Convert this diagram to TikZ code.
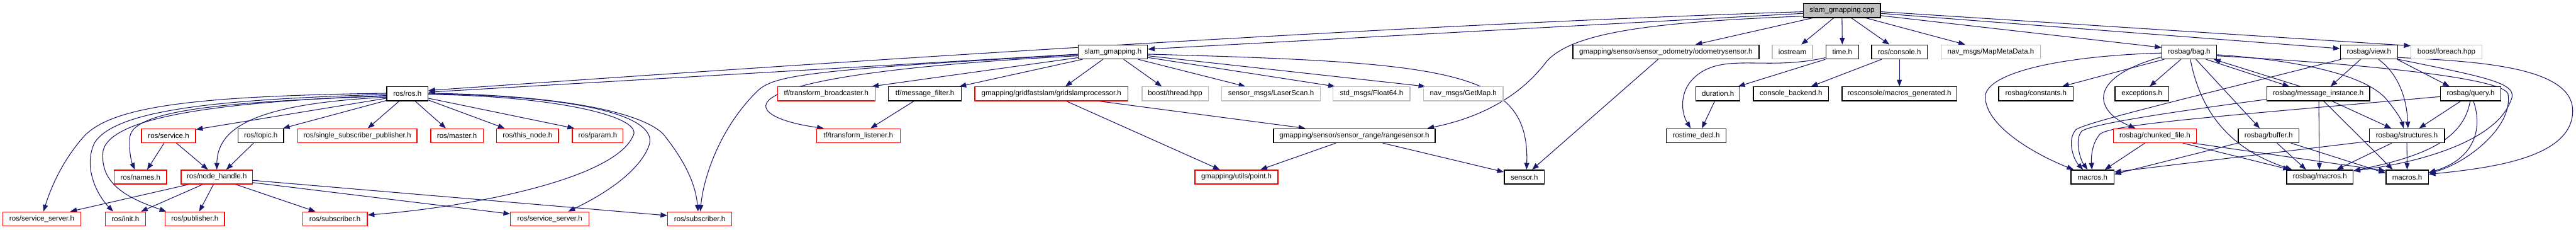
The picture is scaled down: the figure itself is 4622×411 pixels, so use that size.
\documentclass[tikz,border=0pt]{standalone}
\usepackage{fontspec}
\setmainfont{Liberation Sans}
\usetikzlibrary{arrows.meta,backgrounds}
\definecolor{edgeblue}{HTML}{191970}
\definecolor{boxgray}{HTML}{BFBFBF}
\begin{document}
\begin{tikzpicture}[x=1pt,y=-1pt,
  fbox/.style={draw=black, line width=1.5pt, minimum height=25pt, inner sep=0pt, fill=white, font=\fontsize{13}{15}\selectfont},
  redbox/.style={fbox, draw=red},
  graybox/.style={fbox, draw=boxgray},
  rootbox/.style={fbox, fill=boxgray},
  dep/.style={draw=edgeblue, line width=1.2pt, -{Triangle[length=12pt,width=9pt]}}]
\useasboundingbox (0,0) rectangle (4622,411);
% row A
\node[rootbox, minimum width=138pt] (CPP) at (3305,19) {slam\_gmapping.cpp};
% row B
\node[fbox, minimum width=124pt] (SGH) at (1997,93) {slam\_gmapping.h};
\node[fbox, minimum width=334pt] (ODOM) at (2989,93) {gmapping/sensor/sensor\_odometry/odometrysensor.h};
\node[graybox, minimum width=72pt] (IOS) at (3216,93) {iostream};
\node[fbox, minimum width=59pt] (TIME) at (3305.5,93) {time.h};
\node[fbox, minimum width=100pt] (CONS) at (3408,93) {ros/console.h};
\node[graybox, minimum width=178pt] (MMD) at (3572,93) {nav\_msgs/MapMetaData.h};
\node[fbox, minimum width=98pt] (BAG) at (3928,93) {rosbag/bag.h};
\node[fbox, minimum width=103pt] (VIEW) at (4250.5,93) {rosbag/view.h};
\node[graybox, minimum width=127pt] (FOREACH) at (4389.5,93) {boost/foreach.hpp};
% row C
\node[fbox, minimum width=74pt] (ROS) at (731,168) {ros/ros.h};
\node[redbox, minimum width=175pt] (TFB) at (1482.5,168) {tf/transform\_broadcaster.h};
\node[fbox, minimum width=131pt] (TFMF) at (1659.5,168) {tf/message\_filter.h};
\node[redbox, minimum width=275pt] (GSP) at (1886.5,168) {gmapping/gridfastslam/gridslamprocessor.h};
\node[graybox, minimum width=119pt] (THREAD) at (2108.5,168) {boost/thread.hpp};
\node[graybox, minimum width=177pt] (LASER) at (2280.5,168) {sensor\_msgs/LaserScan.h};
\node[graybox, minimum width=138pt] (F64) at (2461,168) {std\_msgs/Float64.h};
\node[graybox, minimum width=143pt] (GETMAP) at (2625.5,168) {nav\_msgs/GetMap.h};
\node[fbox, minimum width=79pt] (DUR) at (3082.5,168) {duration.h};
\node[fbox, minimum width=135pt] (CBACK) at (3213.5,168) {console\_backend.h};
\node[fbox, minimum width=206pt] (MGEN) at (3408,168) {rosconsole/macros\_generated.h};
\node[fbox, minimum width=134pt] (CONST) at (3653,168) {rosbag/constants.h};
\node[fbox, minimum width=96pt] (EXC) at (3843,168) {exceptions.h};
\node[fbox, minimum width=185pt] (MI) at (4159.5,168) {rosbag/message\_instance.h};
\node[fbox, minimum width=108pt] (QUERY) at (4433,168) {rosbag/query.h};
% row D
\node[redbox, minimum width=97pt] (SRV) at (302.5,243) {ros/service.h};
\node[fbox, minimum width=82pt] (TOPIC) at (468,243) {ros/topic.h};
\node[redbox, minimum width=214pt] (SSP) at (641,243) {ros/single\_subscriber\_publisher.h};
\node[redbox, minimum width=94pt] (MASTER) at (820,243) {ros/master.h};
\node[redbox, minimum width=111pt] (THIS) at (946.5,243) {ros/this\_node.h};
\node[redbox, minimum width=91pt] (PARAM) at (1072.5,243) {ros/param.h};
\node[redbox, minimum width=150pt] (TFL) at (1540,243) {tf/transform\_listener.h};
\node[fbox, minimum width=290pt] (RANGE) at (2430,243) {gmapping/sensor/sensor\_range/rangesensor.h};
\node[fbox, minimum width=107pt] (RTD) at (3043.5,243) {rostime\_decl.h};
\node[redbox, minimum width=149pt] (CHUNK) at (3866.5,243) {rosbag/chunked\_file.h};
\node[fbox, minimum width=109pt] (BUF) at (4070.5,243) {rosbag/buffer.h};
\node[fbox, minimum width=135pt] (STRUCT) at (4318.5,243) {rosbag/structures.h};
% row E
\node[redbox, minimum width=94pt] (NAMES) at (252,317) {ros/names.h};
\node[redbox, minimum width=128pt] (NH) at (389,317) {ros/node\_handle.h};
\node[redbox, minimum width=149pt] (POINT) at (2218.5,317) {gmapping/utils/point.h};
\node[fbox, minimum width=72pt] (SENSOR) at (2735,317) {sensor.h};
\node[fbox, minimum width=77pt] (MAC1) at (3754.5,317) {macros.h};
\node[fbox, minimum width=119pt] (RMAC) at (4162.5,317) {rosbag/macros.h};
\node[fbox, minimum width=76pt] (MAC2) at (4319,317) {macros.h};
% row F
\node[redbox, minimum width=140pt] (SS1) at (75,392) {ros/service\_server.h};
\node[redbox, minimum width=72pt] (INIT) at (225,392) {ros/init.h};
\node[redbox, minimum width=107pt] (PUB) at (349.5,392) {ros/publisher.h};
\node[redbox, minimum width=116pt] (SUB1) at (601,392) {ros/subscriber.h};
\node[redbox, minimum width=141pt] (SS2) at (986.5,392) {ros/service\_server.h};
\node[redbox, minimum width=115pt] (SUB2) at (1255.5,392) {ros/subscriber.h};

\begin{scope}[on background layer]
% slam_gmapping.cpp
\draw[dep] ([xshift=-15]CPP.south) -- ([xshift=16]IOS.north);
\draw[dep] (CPP.south) -- (TIME.north);
\draw[dep] ([xshift=17]CPP.south) -- ([xshift=-18]CONS.north);
\draw[dep] ([xshift=-53]CPP.south) -- ([xshift=53]ODOM.north);
\draw[dep] ([xshift=43]CPP.south) -- ([xshift=-46]MMD.north);
\draw[dep] ([yshift=-9]CPP.east) -- ([yshift=8]BAG.west);
\draw[dep] ([yshift=-5]CPP.east) -- ([yshift=6]VIEW.west);
\draw[dep] ([yshift=-2]CPP.east) -- ([yshift=11]FOREACH.west);
\draw[dep] ([yshift=-5]CPP.west) -- ([yshift=5]SGH.east);
\draw[dep] ([yshift=-2]CPP.west) .. controls (2400,48) and (1300,125) .. ([yshift=6]ROS.east);
\draw[dep] ([yshift=-10]CPP.west) .. controls (2950,40) and (2820,60) .. (2775,110) .. controls (2730,170) and (2660,210) .. ([xshift=131]RANGE.north);
% slam_gmapping.h
\draw[dep] ([yshift=-4]SGH.west) -- ([yshift=3]ROS.east);
\draw[dep] ([yshift=3]SGH.south west) -- ([xshift=82]TFB.north);
\draw[dep] ([xshift=8]SGH.south west) -- ([xshift=62]TFMF.north);
\draw[dep] ([yshift=-7]SGH.west) .. controls (1250,135) and (1330,210) .. ([xshift=-62]TFL.north);
\draw[dep] ([yshift=-5]SGH.west) .. controls (1450,125) and (1390,135) .. (1360,162) .. controls (1290,230) and (1262,320) .. ([xshift=1]SUB2.north);
\draw[dep] ([xshift=-18]SGH.south) -- ([xshift=25]GSP.north);
\draw[dep] ([xshift=19]SGH.south) -- ([xshift=-24]THREAD.north);
\draw[dep] ([xshift=45]SGH.south) -- ([xshift=-46]LASER.north);
\draw[dep] ([yshift=-10]SGH.east) -- ([xshift=4]F64.north west);
\draw[dep] ([yshift=-7]SGH.east) -- ([xshift=4]GETMAP.north west);
\draw[dep] ([yshift=-4]SGH.east) .. controls (2600,112) and (2745,125) .. ([xshift=4]SENSOR.north);
% gmapping
\draw[dep] ([xshift=27]GSP.south) -- ([xshift=-30]POINT.north);
\draw[dep] ([xshift=86]GSP.south) -- ([xshift=-88]RANGE.north);
\draw[dep] ([xshift=-33]RANGE.south) -- ([xshift=43]POINT.north);
\draw[dep] ([xshift=51]RANGE.south) -- ([yshift=9]SENSOR.west);
\draw[dep] ([xshift=-14]ODOM.south) -- ([xshift=14]SENSOR.north);
\draw[dep] ([xshift=-20]TFMF.south) -- ([xshift=22]TFL.north);
% time / console
\draw[dep] (TIME.south west) -- ([xshift=-4]DUR.north east);
\draw[dep] ([yshift=3]TIME.south west) .. controls (3180,125) and (3110,100) .. (3060,125) .. controls (3010,150) and (3015,200) .. ([xshift=-10]RTD.north);
\draw[dep] ([xshift=-6]DUR.south) -- ([xshift=10]RTD.north);
\draw[dep] ([xshift=-32]CONS.south) -- ([xshift=36]CBACK.north);
\draw[dep] (CONS.south) -- (MGEN.north);
% ros/ros.h
\draw[dep] ([xshift=-15]ROS.south) -- ([xshift=19]SSP.north);
\draw[dep] ([xshift=14]ROS.south) -- ([xshift=-20]MASTER.north);
\draw[dep] ([yshift=2]ROS.south east) -- ([xshift=-41]THIS.north);
\draw[dep] ([yshift=-8]ROS.east) -- ([xshift=4]PARAM.north west);
\draw[dep] ([yshift=-1]ROS.east) .. controls (1000,172) and (1160,210) .. (1135,245) .. controls (1100,320) and (850,370) .. ([yshift=7]SUB1.east);
\draw[dep] (ROS.east) .. controls (1050,172) and (1185,210) .. (1164,262) .. controls (1145,310) and (1080,350) .. ([xshift=33]SS2.north);
\draw[dep] ([yshift=1]ROS.east) .. controls (1000,170) and (1150,200) .. (1190,240) .. controls (1230,290) and (1248,330) .. ([xshift=-3]SUB2.north);
\draw[dep] ([yshift=1]ROS.west) .. controls (350,172) and (200,190) .. (150,245) .. controls (110,290) and (90,340) .. ([xshift=3]SS1.north);
\draw[dep] ([yshift=-1]ROS.west) .. controls (400,178) and (210,195) .. (170,255) .. controls (148,300) and (175,350) .. ([xshift=-22]INIT.north);
\draw[dep] ([yshift=-3]ROS.west) .. controls (420,182) and (200,205) .. (185,270) .. controls (178,330) and (230,355) .. ([xshift=3]PUB.north west);
\draw[dep] ([yshift=-4]ROS.west) .. controls (420,182) and (240,195) .. (233,245) .. controls (231,272) and (236,290) .. ([xshift=-10]NAMES.north);
\draw[dep] ([yshift=-6]ROS.west) .. controls (480,185) and (390,220) .. (NH.north);
\draw[dep] ([yshift=-8]ROS.west) -- ([yshift=-2]SRV.north east);
\draw[dep] ([yshift=-12]ROS.west) -- ([xshift=-2]TOPIC.north east);
% service / topic / node_handle
\draw[dep] ([xshift=-8]SRV.south) -- ([xshift=12]NAMES.north);
\draw[dep] ([xshift=14]SRV.south) -- ([xshift=-16]NH.north);
\draw[dep] ([xshift=-13]TOPIC.south) -- ([xshift=17]NH.north);
\draw[dep] ([xshift=-50]NH.south) -- ([xshift=51]SS1.north);
\draw[dep] ([xshift=-25]NH.south) -- ([xshift=28]INIT.north);
\draw[dep] ([xshift=-6]NH.south) -- ([xshift=8]PUB.north);
\draw[dep] ([xshift=34]NH.south) -- ([xshift=-35]SUB1.north);
\draw[dep] ([yshift=-10]NH.east) -- ([yshift=9]SS2.west);
\draw[dep] ([yshift=-6]NH.east) -- ([yshift=6]SUB2.west);
% rosbag/bag.h
\draw[dep] ([xshift=-45]BAG.south) -- ([xshift=47]CONST.north);
\draw[dep] ([xshift=-15]BAG.south) -- ([xshift=14]EXC.north);
\draw[dep] ([yshift=-2]BAG.west) .. controls (3700,100) and (3560,130) .. (3562,175) .. controls (3565,230) and (3660,280) .. ([xshift=-34]MAC1.north);
\draw[dep] ([yshift=-9]BAG.west) .. controls (3740,140) and (3760,200) .. ([xshift=-35]CHUNK.north);
\draw[dep] ([xshift=12]BAG.south) -- ([xshift=-16]BUF.north);
\draw[dep] ([xshift=2]BAG.south) .. controls (3950,210) and (4010,270) .. ([xshift=-50]RMAC.north);
\draw[dep] ([xshift=30]BAG.south) -- ([xshift=-52]MI.north);
\draw[dep] ([xshift=-32]MI.north) -- ([xshift=44]BAG.south);
\draw[dep] ([yshift=-5]BAG.east) .. controls (4150,110) and (4250,140) .. (4282,178) .. controls (4300,200) and (4309,215) .. ([xshift=-6]STRUCT.north);
\draw[dep] ([yshift=-7]BAG.east) .. controls (4250,115) and (4490,140) .. (4500,168) .. controls (4510,230) and (4420,295) .. ([yshift=7]MAC2.east);
% rosbag/view.h
\draw[dep] ([xshift=-15]VIEW.south) -- ([xshift=22]MI.north);
\draw[dep] ([xshift=17]VIEW.south) .. controls (4300,130) and (4318,170) .. ([xshift=2]STRUCT.north);
\draw[dep] ([xshift=-2]VIEW.south east) -- ([xshift=-38]QUERY.north);
\draw[dep] (VIEW.south east) .. controls (4470,140) and (4520,150) .. (4505,180) .. controls (4480,250) and (4350,290) .. ([yshift=11]RMAC.east);
\draw[dep] ([yshift=-10]VIEW.east) .. controls (4450,110) and (4618,120) .. (4616,200) .. controls (4614,280) and (4480,300) .. ([yshift=5]MAC2.east);
\draw[dep] ([xshift=-50]VIEW.south) .. controls (3950,170) and (3745,218) .. (3725,232) .. controls (3708,250) and (3720,285) .. ([xshift=-17]MAC1.north);
% rosbag/message_instance.h
\draw[dep] ([yshift=-10]MI.west) .. controls (3900,200) and (3752,222) .. (3735,235) .. controls (3722,250) and (3732,285) .. ([xshift=-9]MAC1.north);
\draw[dep] ([xshift=25]MI.south) -- ([xshift=-28]STRUCT.north);
\draw[dep] ([xshift=1]MI.south) -- ([xshift=-1]RMAC.north);
\draw[dep] ([xshift=10]MI.south) -- ([xshift=-26]MAC2.north);
% rosbag/query.h
\draw[dep] ([yshift=-5]QUERY.west) .. controls (4000,207) and (3790,222) .. (3768,240) .. controls (3752,258) and (3752,285) .. ([xshift=-1]MAC1.north);
\draw[dep] ([xshift=-18]QUERY.south) -- ([xshift=22]STRUCT.north);
\draw[dep] ([xshift=5]QUERY.south) .. controls (4455,230) and (4440,285) .. ([yshift=8]MAC2.east);
\draw[dep] ([xshift=-1]QUERY.south) .. controls (4420,250) and (4350,280) .. ([yshift=-2]RMAC.north east);
% rosbag/structures.h
\draw[dep] (STRUCT.south) -- (MAC2.north);
\draw[dep] ([xshift=-27]STRUCT.south) -- ([xshift=30]RMAC.north);
\draw[dep] ([yshift=-10]STRUCT.west) -- ([yshift=9]MAC1.east);
% rosbag/buffer.h
\draw[dep] ([xshift=15]BUF.south) -- ([xshift=-25]RMAC.north);
\draw[dep] ([xshift=40]BUF.south) -- ([yshift=7]MAC2.west);
\draw[dep] (BUF.south west) -- ([yshift=5]MAC1.east);
% rosbag/chunked_file.h
\draw[dep] ([xshift=-18]CHUNK.south) -- ([xshift=22]MAC1.north);
\draw[dep] ([xshift=50]CHUNK.south) -- ([xshift=-54]RMAC.north);
\draw[dep] ([xshift=-8]CHUNK.south east) -- ([yshift=11]MAC2.west);
\end{scope}
\end{tikzpicture}
\end{document}
